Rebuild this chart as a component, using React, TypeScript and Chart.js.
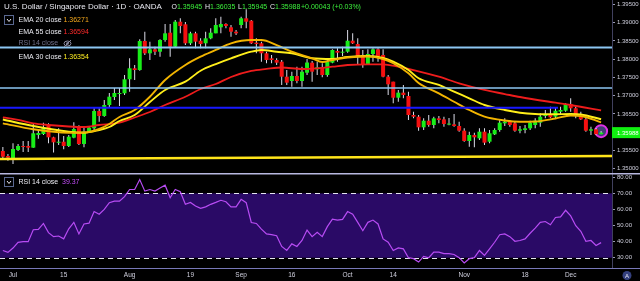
import React, { useEffect, useRef } from 'react';
import { Chart, registerables } from 'chart.js';
Chart.register(...registerables);

// ---------- DATA ----------
const FIRST_INDEX = -2; // first visible bar (27 Jun 2019); index 0 = 1 Jul 2019
const opens = [1.35486,1.35349,1.35294,1.35513,1.35620,1.35622,1.35576,1.35923,1.35950,1.36177,1.35859,1.35711,1.35739,1.35622,1.35850,1.36133,1.35677,1.36014,1.36106,1.36580,1.36443,1.36744,1.36963,1.37045,1.37064,1.37448,1.37749,1.37702,1.38496,1.38159,1.38268,1.38203,1.38523,1.38723,1.38340,1.39024,1.38953,1.38433,1.38706,1.38504,1.38433,1.38569,1.38706,1.38871,1.38961,1.38871,1.38750,1.38934,1.39117,1.39051,1.38450,1.38433,1.38159,1.38022,1.37976,1.37929,1.37519,1.37401,1.37538,1.37401,1.37628,1.37902,1.37721,1.37776,1.37565,1.37902,1.38222,1.38176,1.38203,1.38504,1.38413,1.38113,1.37866,1.38140,1.38268,1.38113,1.37519,1.37383,1.36944,1.37082,1.36991,1.36471,1.36424,1.36133,1.36315,1.36197,1.36379,1.36351,1.36208,1.36215,1.36170,1.36041,1.35759,1.35923,1.35832,1.36014,1.35740,1.35941,1.36060,1.36243,1.36287,1.36242,1.36041,1.36060,1.36106,1.36197,1.36260,1.36443,1.36498,1.36424,1.36561,1.36588,1.36771,1.36654,1.36443,1.36351,1.36041,1.36079,1.35945];
const highs = [1.35595,1.35404,1.35696,1.35677,1.35759,1.35759,1.36244,1.36060,1.36259,1.36244,1.35875,1.36106,1.35895,1.35923,1.36270,1.36188,1.36133,1.36170,1.36654,1.36654,1.36881,1.37073,1.37210,1.37210,1.37566,1.38022,1.37839,1.38542,1.38751,1.38477,1.38340,1.38542,1.38961,1.38961,1.39071,1.39117,1.39016,1.38751,1.38751,1.38569,1.38751,1.38843,1.39117,1.39161,1.38980,1.38934,1.38797,1.39161,1.39363,1.39071,1.38569,1.38477,1.38203,1.38113,1.38022,1.37976,1.37702,1.37656,1.37793,1.37793,1.38003,1.37948,1.37929,1.37885,1.37976,1.38268,1.38296,1.38340,1.38797,1.38706,1.38569,1.38250,1.38268,1.38296,1.38296,1.38268,1.37565,1.37383,1.37155,1.37292,1.37110,1.36561,1.36471,1.36379,1.36471,1.36424,1.36443,1.36424,1.36388,1.36498,1.36287,1.36106,1.36014,1.35986,1.36106,1.36106,1.36060,1.36106,1.36334,1.36379,1.36334,1.36287,1.36170,1.36197,1.36315,1.36379,1.36516,1.36607,1.36699,1.36662,1.36699,1.36791,1.36927,1.36699,1.36561,1.36443,1.36151,1.36115,1.36035];
const lows = [1.35294,1.35220,1.35129,1.35486,1.35458,1.35458,1.35576,1.35822,1.35923,1.35695,1.35441,1.35650,1.35531,1.35595,1.35833,1.35650,1.35586,1.35978,1.36060,1.36287,1.36424,1.36689,1.36881,1.36717,1.37018,1.37109,1.37429,1.37683,1.38113,1.37976,1.38113,1.38067,1.38477,1.38067,1.38305,1.38706,1.38386,1.38386,1.38296,1.38296,1.38296,1.38542,1.38706,1.38706,1.38843,1.38614,1.38660,1.38843,1.38843,1.38413,1.38159,1.37929,1.37885,1.37885,1.37839,1.37292,1.37292,1.37246,1.37338,1.37246,1.37565,1.37382,1.37565,1.37502,1.37519,1.37885,1.37929,1.38085,1.38176,1.38413,1.37839,1.37765,1.37839,1.37929,1.37929,1.37502,1.37018,1.36791,1.36835,1.36927,1.36334,1.36379,1.36041,1.36060,1.36151,1.36106,1.36242,1.36151,1.36188,1.36151,1.36014,1.35740,1.35604,1.35586,1.35786,1.35650,1.35695,1.35923,1.36014,1.36170,1.36151,1.36014,1.35970,1.35970,1.36060,1.36106,1.36151,1.36379,1.36379,1.36388,1.36498,1.36561,1.36561,1.36379,1.36334,1.36014,1.35923,1.35923,1.35945];
const closes = [1.35329,1.35302,1.35540,1.35622,1.35595,1.35576,1.35970,1.35978,1.36133,1.35859,1.35722,1.35739,1.35622,1.35877,1.36087,1.35677,1.36014,1.36123,1.36580,1.36443,1.36744,1.36972,1.37073,1.37073,1.37448,1.37749,1.37702,1.38496,1.38159,1.38268,1.38203,1.38523,1.38706,1.38340,1.39024,1.38906,1.38433,1.38706,1.38477,1.38413,1.38569,1.38723,1.38934,1.38961,1.38906,1.38750,1.38706,1.39117,1.39024,1.38433,1.38413,1.38159,1.37976,1.37976,1.37902,1.37519,1.37355,1.37538,1.37401,1.37656,1.37907,1.37656,1.37776,1.37565,1.37929,1.38250,1.38176,1.38203,1.38504,1.38433,1.38085,1.37866,1.38140,1.38268,1.38067,1.37519,1.37310,1.36944,1.37082,1.37018,1.36471,1.36424,1.36133,1.36315,1.36197,1.36379,1.36334,1.36224,1.36224,1.36170,1.36041,1.35759,1.35923,1.35859,1.36014,1.35713,1.35970,1.36060,1.36260,1.36287,1.36197,1.36041,1.36079,1.36106,1.36260,1.36315,1.36424,1.36498,1.36407,1.36588,1.36607,1.36771,1.36654,1.36443,1.36351,1.36041,1.36079,1.35945,1.35988];
const rsiValues = [34.5,33.3,36,39.5,40,40,47.4,47.6,51.3,45.6,43.1,43.5,41.7,48,52,44.8,51,51.5,58.7,57,60,64.2,65.2,65.2,68,72.4,72.4,78.6,71.4,72.4,71.4,73.4,75.1,67.3,72.4,71,63.2,64.4,62.2,60.7,61.6,63.2,64.4,65.7,64.8,61.6,61.6,66.3,64.2,51.9,51.3,47.8,44.8,44.3,43.7,37,34.5,38.6,37,40.7,47.2,43.1,45.8,43.1,49.3,54,53.4,53.8,58.7,57,52,46.8,52,53.4,51,41.7,39.6,34.5,36.1,35.5,30,29.4,27.3,30.8,30,33.5,33.5,32.5,32.5,32,30,26.7,29.4,30,34.5,31.4,35.5,39.6,44.3,44.8,43.1,40.2,40.7,41.7,45.2,48.4,52,52.5,50.5,55,55.4,59.5,56,49.9,46.4,40.2,40.7,37.6,39.37];

// EMA readings: [bar index, value]
const ema20Points = [[-2,1.36243],[4,1.36079],[11,1.35986],[14,1.35991],[17,1.36087],[19,1.36224],[21,1.36416],[24,1.36607],[27,1.36971],[30,1.37429],[34,1.37839],[37,1.38066],[40,1.38250],[43,1.38433],[47,1.38523],[49,1.38523],[52,1.38386],[55,1.38203],[59,1.38022],[61,1.37921],[63,1.37976],[66,1.38044],[70,1.38072],[73,1.38003],[75,1.37886],[78,1.37612],[80,1.37346],[84,1.37064],[87,1.36834],[90,1.36607],[93,1.36424],[97,1.36320],[100,1.36287],[103,1.36293],[107,1.36375],[110,1.36457],[112,1.36443],[116,1.36271]];
const ema30Points = [[-2,1.36347],[4,1.36169],[11,1.36013],[14,1.35986],[17,1.36060],[19,1.36142],[21,1.36306],[24,1.36470],[27,1.36826],[30,1.37155],[34,1.37382],[37,1.37683],[40,1.37866],[43,1.38022],[47,1.38203],[49,1.38250],[52,1.38203],[55,1.38159],[59,1.38022],[63,1.38003],[66,1.38058],[70,1.38085],[73,1.38031],[75,1.37929],[78,1.37702],[80,1.37475],[84,1.37292],[87,1.37108],[90,1.36928],[93,1.36744],[97,1.36607],[100,1.36533],[103,1.36498],[107,1.36490],[110,1.36498],[112,1.36484],[116,1.36354]];
const ema55Points = [[-2,1.36408],[1,1.36334],[4,1.36243],[7,1.36197],[11,1.36156],[14,1.36142],[17,1.36197],[21,1.36260],[24,1.36402],[27,1.36553],[30,1.36744],[34,1.36971],[37,1.37182],[40,1.37319],[43,1.37511],[47,1.37675],[50,1.37730],[53,1.37771],[57,1.37730],[60,1.37749],[63,1.37792],[66,1.37839],[70,1.37858],[73,1.37858],[76,1.37792],[79,1.37702],[84,1.37519],[88,1.37338],[93,1.37155],[97,1.37045],[100,1.36963],[107,1.36807],[110,1.36744],[116,1.36594]];

// Drawn horizontal levels / trend line: [bar index, value]
const levelTop = [[-2.6,1.38318],[118.2,1.38318]];
const levelMid = [[-2.6,1.37209],[118.2,1.37209]];
const levelBlue = [[-2.6,1.36670],[107.5,1.36670]];
const trendYellow = [[-2.6,1.35266],[118.2,1.35348]];

const timeTickIndex = [0,10,23,35,45,55,66,75,89,101,110];
const timeTickLabels = ['Jul','15','Aug','19','Sep','16','Oct','14','Nov','18','Dec'];
const priceTicks = [1.35,1.355,1.36,1.365,1.37,1.375,1.38,1.385,1.39,1.395];
const rsiTicks = [30,40,50,60,70,80];

// ---------- STYLE ----------
const X_MIN = -2.564;
const X_MAX = 118.15;
const GREEN = '#18ee18';
const RED = '#f41010';
const WICK = '#dcdce8';
const AXIS_TEXT = '#d0d0de';
const FONT = '"Liberation Sans", Arial, sans-serif';

const toXY = (pts: number[][]) => pts.map(([x, y]) => ({ x, y }));
const lastIdx = closes.length - 1;

function drawToggle(ctx: CanvasRenderingContext2D, x: number, y: number) {
  ctx.save();
  ctx.strokeStyle = '#5a6890';
  ctx.lineWidth = 1;
  ctx.strokeRect(x + 0.5, y + 0.5, 9, 9);
  ctx.strokeStyle = '#e8e8f0';
  ctx.beginPath();
  ctx.moveTo(x + 3, y + 4);
  ctx.lineTo(x + 5, y + 6.5);
  ctx.lineTo(x + 7, y + 4);
  ctx.stroke();
  ctx.restore();
}

const priceOverlay = {
  id: 'priceOverlay',
  beforeDatasetsDraw(chart: any) {
    const { ctx, scales } = chart;
    const cx = scales.x.getPixelForValue(FIRST_INDEX + lastIdx);
    const cy = scales.y.getPixelForValue(closes[lastIdx]) - 1.5;
    ctx.save();
    ctx.beginPath();
    ctx.arc(cx, cy, 6, 0, Math.PI * 2);
    ctx.fillStyle = 'rgba(72,72,130,0.9)';
    ctx.fill();
    ctx.lineWidth = 2;
    ctx.strokeStyle = '#e030e8';
    ctx.stroke();
    ctx.restore();
  },
  afterDraw(chart: any) {
    const { ctx, scales } = chart;
    ctx.save();
    // last price label
    const py = scales.y.getPixelForValue(closes[lastIdx]);
    ctx.fillStyle = '#10f010';
    ctx.fillRect(612, py - 5.5, 28, 11);
    ctx.fillStyle = '#ffffff';
    ctx.font = '6px ' + FONT;
    ctx.textBaseline = 'middle';
    ctx.textAlign = 'left';
    ctx.fillText(closes[lastIdx].toFixed(5), 617, py + 0.5);

    // title
    ctx.fillStyle = '#e8e8f0';
    ctx.font = '8px ' + FONT;
    ctx.fillText('U.S. Dollar / Singapore Dollar · 1D · OANDA', 4, 7);
    ctx.font = '7px ' + FONT;
    const ohlc: [string, number, number][] = [
      ['O', 171.5, opens[lastIdx]],
      ['H', 205, highs[lastIdx]],
      ['L', 238, lows[lastIdx]],
      ['C', 270, closes[lastIdx]],
    ];
    ohlc.forEach(([k, x, v]) => {
      ctx.fillStyle = '#e8e8f0';
      ctx.fillText(k, x, 7);
      const w = ctx.measureText(k).width;
      ctx.fillStyle = '#3cf03c';
      ctx.fillText(v.toFixed(5), x + w, 7);
    });
    const ch = closes[lastIdx] - closes[lastIdx - 1];
    const pct = (ch / closes[lastIdx - 1]) * 100;
    ctx.fillStyle = '#3cf03c';
    ctx.fillText(
      (ch >= 0 ? '+' : '') + ch.toFixed(5) + ' (' + (pct >= 0 ? '+' : '') + pct.toFixed(2) + '%)',
      301, 7
    );

    // indicator legend
    drawToggle(ctx, 4, 15);
    ctx.font = '7px ' + FONT;
    const rows: [string, string, string, number, boolean][] = [
      ['EMA 20 close', ema20Points[ema20Points.length - 1][1].toFixed(5), '#f5a81c', 20, true],
      ['EMA 55 close', ema55Points[ema55Points.length - 1][1].toFixed(5), '#ff2a2a', 32.3, true],
      ['RSI 14 close', '', '#7a7a8a', 43.5, false],
      ['EMA 30 close', ema30Points[ema30Points.length - 1][1].toFixed(5), '#ffee22', 57, true],
    ];
    rows.forEach(([label, val, col, y, on]) => {
      ctx.fillStyle = on ? '#ececf2' : '#70708a';
      ctx.fillText(label, 18.5, y);
      if (val) {
        ctx.fillStyle = col;
        ctx.fillText(val, 63.5, y);
      } else {
        // crossed eye icon
        ctx.strokeStyle = '#8a8aa0';
        ctx.lineWidth = 1;
        ctx.beginPath();
        ctx.ellipse(67.5, y, 3.5, 2.5, 0, 0, Math.PI * 2);
        ctx.stroke();
        ctx.beginPath();
        ctx.arc(67.5, y, 1, 0, Math.PI * 2);
        ctx.stroke();
        ctx.beginPath();
        ctx.moveTo(64, y + 3.5);
        ctx.lineTo(71, y - 3.5);
        ctx.stroke();
      }
    });
    ctx.restore();
  },
};

const rsiOverlay = {
  id: 'rsiOverlay',
  beforeDatasetsDraw(chart: any) {
    const { ctx, chartArea: a, scales } = chart;
    const y70 = scales.y.getPixelForValue(70);
    const y30 = scales.y.getPixelForValue(30);
    ctx.save();
    ctx.fillStyle = '#2a0a66';
    ctx.fillRect(a.left, y70, a.right - a.left, y30 - y70);
    ctx.setLineDash([5, 4]);
    ctx.strokeStyle = '#e4e4f0';
    ctx.lineWidth = 1;
    [y70, y30].forEach((yy) => {
      ctx.beginPath();
      ctx.moveTo(a.left, Math.round(yy) + 0.5);
      ctx.lineTo(a.right, Math.round(yy) + 0.5);
      ctx.stroke();
    });
    ctx.restore();
  },
  afterDraw(chart: any) {
    const { ctx, chartArea: a } = chart;
    ctx.save();
    ctx.strokeStyle = '#b8b8e0';
    ctx.lineWidth = 1.5;
    ctx.beginPath();
    ctx.moveTo(0, 0.75);
    ctx.lineTo(640, 0.75);
    ctx.stroke();
    ctx.strokeStyle = '#7878b8';
    ctx.lineWidth = 1;
    ctx.beginPath();
    ctx.moveTo(0, a.bottom + 0.5);
    ctx.lineTo(640, a.bottom + 0.5);
    ctx.stroke();

    drawToggle(ctx, 4, 4);
    ctx.font = '7px ' + FONT;
    ctx.textBaseline = 'middle';
    ctx.fillStyle = '#ececf2';
    ctx.fillText('RSI 14 close', 18.5, 9);
    ctx.fillStyle = '#c850ff';
    ctx.fillText(rsiValues[rsiValues.length - 1].toFixed(2), 62, 9);

    // auto-scale badge
    ctx.beginPath();
    ctx.arc(627, 102.5, 4.5, 0, Math.PI * 2);
    ctx.fillStyle = '#34407e';
    ctx.fill();
    ctx.fillStyle = '#e8e8f4';
    ctx.font = '6px ' + FONT;
    ctx.textAlign = 'center';
    ctx.fillText('A', 627, 103);
    ctx.restore();
  },
};

const rightAxis = (min: number, max: number, ticks: number[], digits: number) => ({
  type: 'linear' as const,
  position: 'right' as const,
  min,
  max,
  afterBuildTicks: (s: any) => {
    s.ticks = ticks.map((v) => ({ value: v }));
  },
  afterFit: (s: any) => {
    s.width = 28;
    s.paddingTop = 0;
    s.paddingBottom = 0;
  },
  ticks: {
    callback: (v: any) => Number(v).toFixed(digits),
    color: AXIS_TEXT,
    font: { family: FONT, size: 6 },
    padding: 2,
  },
  grid: { drawOnChartArea: false, drawTicks: true, tickLength: 3, color: '#9a9ab4' },
  border: { display: true, color: '#40405e', width: 1 },
});

export default function App() {
  const priceRef = useRef<HTMLCanvasElement>(null);
  const rsiRef = useRef<HTMLCanvasElement>(null);

  useEffect(() => {
    const idx = closes.map((_, k) => FIRST_INDEX + k);
    const wicks = idx.map((x, k) => ({ x, y: [lows[k], highs[k]] }));
    const bodies = idx.map((x, k) => ({ x, y: [opens[k], closes[k]] }));
    const bodyColors = closes.map((c, k) => (c >= opens[k] ? GREEN : RED));

    const line = (data: number[][], color: string, width: number, order: number, smooth = false) => ({
      type: 'line' as const,
      data: toXY(data),
      borderColor: color,
      borderWidth: width,
      pointRadius: 0,
      fill: false,
      order,
      cubicInterpolationMode: smooth ? ('monotone' as const) : ('default' as const),
    });

    const priceChart = new Chart(priceRef.current!, {
      type: 'bar',
      data: {
        datasets: [
          {
            type: 'bar',
            data: wicks as any,
            backgroundColor: WICK,
            barThickness: 1,
            grouped: false,
            inflateAmount: 0,
            borderWidth: 0,
            order: 10,
          } as any,
          {
            type: 'bar',
            data: bodies as any,
            backgroundColor: bodyColors,
            barThickness: 4,
            minBarLength: 1,
            grouped: false,
            inflateAmount: 0,
            borderWidth: 0,
            order: 9,
          } as any,
          line(ema55Points, '#ee1c1c', 1.8, 5, true),
          line(ema30Points, '#ffee1a', 1.9, 4, true),
          line(ema20Points, '#f2b400', 1.9, 3, true),
          line(levelTop, '#8cc6f2', 2, 1),
          line(levelMid, '#8cc6f2', 1.6, 1),
          line(levelBlue, '#1818ff', 2, 1),
          line(trendYellow, '#ffe41a', 2.6, 1),
        ] as any,
      },
      options: {
        responsive: false,
        animation: false,
        devicePixelRatio: 1,
        events: [],
        layout: { padding: 0 },
        plugins: { legend: { display: false }, tooltip: { enabled: false } },
        scales: {
          x: {
            type: 'linear',
            min: X_MIN,
            max: X_MAX,
            offset: false,
            display: false,
          },
          y: rightAxis(1.34883, 1.39618, priceTicks, 5) as any,
        },
      },
      plugins: [priceOverlay],
    });

    const rsiChart = new Chart(rsiRef.current!, {
      type: 'line',
      data: {
        datasets: [
          {
            data: idx.map((x, k) => ({ x, y: rsiValues[k] })),
            borderColor: '#b84cf4',
            borderWidth: 1.2,
            pointRadius: 0,
            fill: false,
          },
        ],
      },
      options: {
        responsive: false,
        animation: false,
        devicePixelRatio: 1,
        events: [],
        layout: { padding: { top: 1 } },
        plugins: { legend: { display: false }, tooltip: { enabled: false } },
        scales: {
          x: {
            type: 'linear',
            min: X_MIN,
            max: X_MAX,
            offset: false,
            afterBuildTicks: (s: any) => {
              s.ticks = timeTickIndex.map((v) => ({ value: v }));
            },
            afterFit: (s: any) => {
              s.height = 13;
              s.paddingLeft = 0;
              s.paddingRight = 0;
            },
            ticks: {
              autoSkip: false,
              maxRotation: 0,
              padding: 3,
              color: AXIS_TEXT,
              font: { family: FONT, size: 6.5 },
              callback: (_v: any, i: number) => timeTickLabels[i],
            },
            grid: { display: false, drawTicks: false },
            border: { display: false },
          },
          y: rightAxis(23.6, 82.05, rsiTicks, 2) as any,
        },
      },
      plugins: [rsiOverlay],
    });

    return () => {
      priceChart.destroy();
      rsiChart.destroy();
    };
  }, []);

  return (
    <div
      style={{
        position: 'fixed',
        left: 0,
        top: 0,
        width: 640,
        height: 281,
        background: '#000',
        overflow: 'hidden',
      }}
    >
      <canvas
        ref={priceRef}
        width={640}
        height={173}
        style={{ position: 'absolute', left: 0, top: 0, width: 640, height: 173 }}
      />
      <canvas
        ref={rsiRef}
        width={640}
        height={108}
        style={{ position: 'absolute', left: 0, top: 173, width: 640, height: 108 }}
      />
    </div>
  );
}
